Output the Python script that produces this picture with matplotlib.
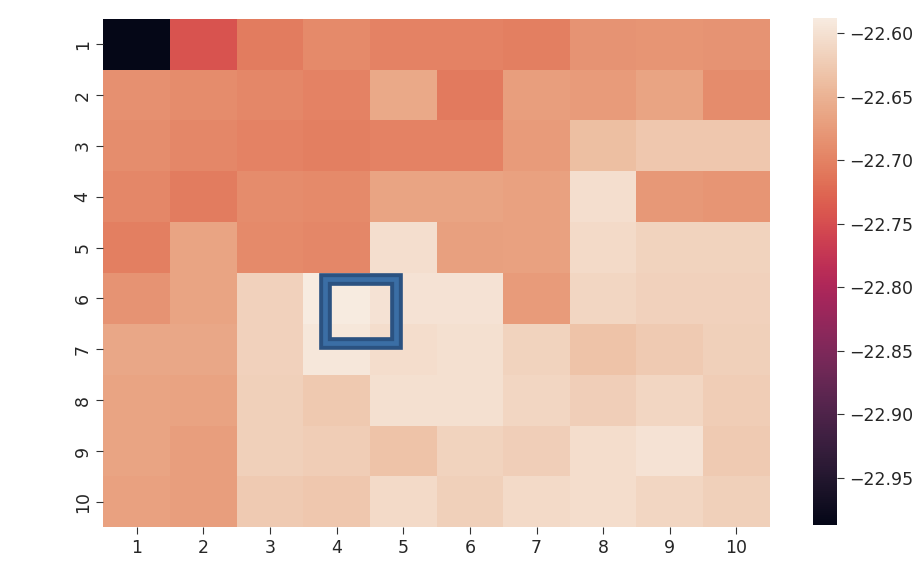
import colorsys
import numpy as np
import matplotlib
matplotlib.use("Agg")
import matplotlib.pyplot as plt
import matplotlib.patheffects as pe
from matplotlib.patches import Rectangle
from matplotlib.colors import ListedColormap
import seaborn as sns

# grid labels
x_labels = [1, 2, 3, 4, 5, 6, 7, 8, 9, 10]
y_labels = [1, 2, 3, 4, 5, 6, 7, 8, 9, 10]
cbar_ticks = [-22.60, -22.65, -22.70, -22.75, -22.80, -22.85, -22.90, -22.95]

# values, one list per row
row1 = [-22.987, -22.745, -22.705, -22.692, -22.700, -22.700, -22.703, -22.683, -22.680, -22.682]
row2 = [-22.685, -22.690, -22.695, -22.700, -22.660, -22.708, -22.672, -22.675, -22.665, -22.690]
row3 = [-22.688, -22.695, -22.700, -22.702, -22.700, -22.700, -22.675, -22.637, -22.628, -22.628]
row4 = [-22.695, -22.705, -22.690, -22.692, -22.665, -22.665, -22.668, -22.603, -22.678, -22.680]
row5 = [-22.702, -22.665, -22.692, -22.695, -22.603, -22.670, -22.668, -22.607, -22.616, -22.616]
row6 = [-22.683, -22.665, -22.617, -22.588, -22.598, -22.598, -22.675, -22.612, -22.617, -22.617]
row7 = [-22.662, -22.662, -22.617, -22.594, -22.605, -22.601, -22.615, -22.632, -22.625, -22.619]
row8 = [-22.665, -22.667, -22.619, -22.626, -22.602, -22.602, -22.612, -22.620, -22.612, -22.621]
row9 = [-22.665, -22.672, -22.619, -22.622, -22.632, -22.616, -22.620, -22.605, -22.598, -22.625]
row10 = [-22.668, -22.672, -22.624, -22.627, -22.607, -22.618, -22.607, -22.604, -22.612, -22.618]

grid = np.array([row1, row2, row3, row4, row5, row6, row7, row8, row9, row10])

# the reference rocket looks a bit washed out, so tone the saturation down
base = sns.color_palette("rocket", 256)
soft = []
for r, g, b in base:
    h, l, s = colorsys.rgb_to_hls(r, g, b)
    soft.append(colorsys.hls_to_rgb(h, l, s * 0.8))
cmap = ListedColormap(soft)

fig = plt.figure(figsize=(9.24, 5.70), dpi=100)
ax = fig.add_axes([0.112, 0.075, 0.721, 0.892])
cax = fig.add_axes([0.880, 0.079, 0.026, 0.889])

sns.heatmap(grid, ax=ax, cbar_ax=cax, cmap=cmap,
            xticklabels=x_labels, yticklabels=y_labels)

ax.tick_params(axis="both", labelsize=12.5, length=5, color="#333333", labelcolor="#262626")
ax.set_yticklabels(y_labels, rotation=90, va="center")
cax.tick_params(labelsize=12.5, length=5, color="#333333", labelcolor="#262626")
cax.set_yticks(cbar_ticks)
cax.set_yticklabels([f"{t:.2f}".replace("-", "\u2212") for t in cbar_ticks])

# highlight box around the best cell
box = Rectangle((3.32, 5.12), 1.07, 1.25, fill=False,
                edgecolor="#3b6ea5", linewidth=3.4, zorder=5)
box.set_path_effects([pe.Stroke(linewidth=9.1, foreground="#2b5281"), pe.Normal()])
ax.add_patch(box)

fig.savefig("out.png", dpi=100)
